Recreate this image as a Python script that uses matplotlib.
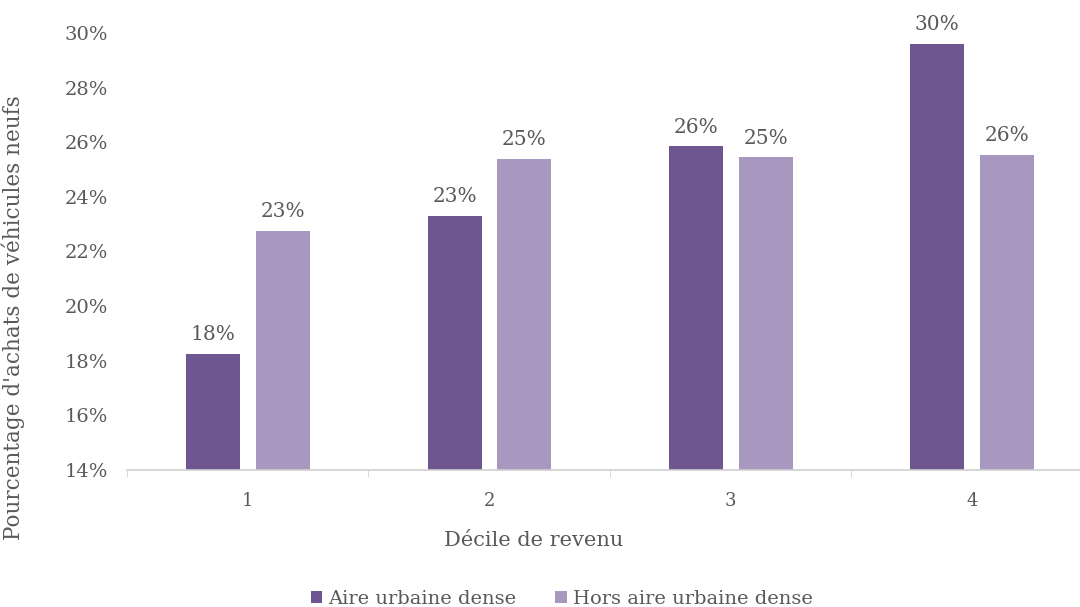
import matplotlib.pyplot as plt
import numpy as np

deciles = ["1", "2", "3", "4"]
dense = [18.25, 23.3, 25.85, 29.6]
hors_dense = [22.75, 25.4, 25.45, 25.55]
series_names = ["Aire urbaine dense", "Hors aire urbaine dense"]

dark = "#6e5690"
light = "#a898c0"
grey = "#595959"

plt.rcParams['font.family'] = ['DejaVu Serif']

fig = plt.figure(figsize=(10.8, 6.07), dpi=100)
ax = fig.add_axes([0.1176, 0.2257, 0.894, 0.72])

x = np.arange(len(deciles))
w = 0.224
b1 = ax.bar(x - 0.143, np.array(dense) - 14, w, bottom=14, color=dark, label=series_names[0])
b2 = ax.bar(x + 0.146, np.array(hors_dense) - 14, w, bottom=14, color=light, label=series_names[1])

# value labels above each bar
for bars, vals in ((b1, dense), (b2, hors_dense)):
    for r, v in zip(bars, vals):
        ax.annotate(f"{v:.0f}%", (r.get_x() + r.get_width() / 2, v),
                    xytext=(0, 7), textcoords="offset points",
                    ha="center", va="bottom", fontsize=14.5, color=grey)

ax.set_xlim(-0.5, 3.5)
ax.set_ylim(14, 30)
ax.set_yticks(np.arange(14, 31, 2))
ax.set_yticklabels([f"{t}%" for t in range(14, 31, 2)], fontsize=14, color=grey)
ax.tick_params(axis="y", length=0, pad=14)

ax.set_xticks(x)
ax.set_xticklabels(deciles, fontsize=13, color=grey)
ax.set_xticks(np.arange(-0.5, 3.6, 1), minor=True)
ax.tick_params(axis="x", which="major", length=0, pad=16)
ax.tick_params(axis="x", which="minor", length=5, color="#d0d0d0")

for s in ("top", "right", "left"):
    ax.spines[s].set_visible(False)
ax.spines["bottom"].set_color("#d0d0d0")
ax.spines["bottom"].set_linewidth(1.2)

ax.set_xlabel("Décile de revenu", fontsize=15, color=grey)
ax.xaxis.set_label_coords(0.421, -0.14)
ax.set_ylabel("Pourcentage d'achats de véhicules neufs", fontsize=15.5, color=grey)
ax.yaxis.set_label_coords(-0.106, 0.348)

fig.legend(handles=[b1, b2], labels=series_names, loc="lower center",
           bbox_to_anchor=(0.52, -0.03), ncol=2, frameon=False,
           fontsize=14, labelcolor=grey, handlelength=0.6, handleheight=0.6,
           handletextpad=0.3, columnspacing=2.0)

fig.savefig("out.png", dpi=100)
